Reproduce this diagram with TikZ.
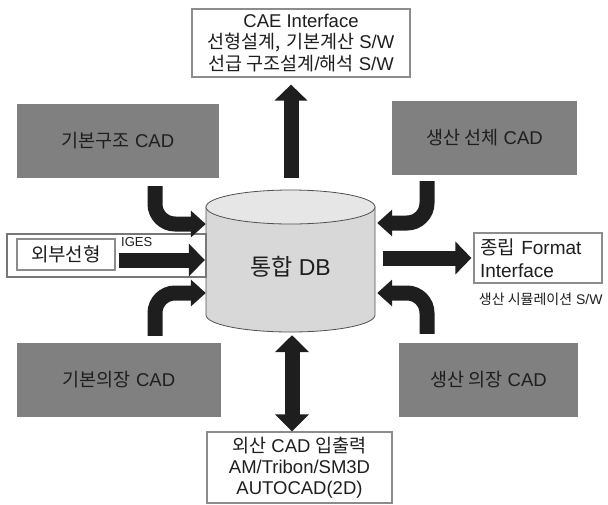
\documentclass[tikz,border=0pt]{standalone}
\usepackage{fontspec}
\setmainfont{Liberation Sans}
\newfontfamily\kr{Noto Sans CJK KR}
\usetikzlibrary{arrows.meta,calc}
\definecolor{BoxGray}{HTML}{808080}
\definecolor{Ink}{HTML}{1E1E1E}
\definecolor{DBBody}{HTML}{D8D8D8}
\definecolor{DBTop}{HTML}{E6E6E6}
\definecolor{DBLine}{HTML}{505050}
\definecolor{Frame}{HTML}{8C8C8C}

\begin{document}
\begin{tikzpicture}[x=1pt,y=-1pt]
  \tikzset{
    cadbox/.style={rectangle, fill=BoxGray, text=Ink, minimum height=74pt,
      font=\fontsize{18.5}{21}\selectfont},
    infobox/.style={rectangle, draw=Frame, line width=1.2pt, fill=white,
      align=center, text=Ink, font=\fontsize{18.5}{21.5}\selectfont},
    fat/.style={line width=15pt, draw=Ink, -{Triangle[length=16pt,width=32pt]}},
    bent/.style={line width=15pt, draw=Ink, rounded corners=20pt,
      -{Triangle[length=15pt,width=26pt]}}
  }
  \useasboundingbox (0,0) rectangle (608,504);

  % database
  \node[minimum width=169pt, minimum height=142pt, inner sep=0pt] (db) at (290.5,261) {};
  \draw[DBLine, line width=0.8pt, fill=DBBody] (206,207) -- (206,315)
    arc[start angle=180, end angle=0, x radius=84.5, y radius=17] -- (375,207) -- cycle;
  \draw[DBLine, line width=0.8pt, fill=DBTop] (290.5,207) ellipse[x radius=84.5, y radius=17];
  \node[text=Ink, font=\fontsize{23}{26}\selectfont] (dblabel) at (290.5,267) {{\kr 통합} DB};

  % CAD systems
  \node[cadbox, minimum width=202pt] (bs) at (118,141)   {{\kr 기본구조} CAD};
  \node[cadbox, minimum width=185pt] (ps) at (484.5,138) {{\kr 생산 선체} CAD};
  \node[cadbox, minimum width=204pt] (bo) at (119,380)   {{\kr 기본의장} CAD};
  \node[cadbox, minimum width=179pt] (po) at (488.5,380) {{\kr 생산 의장} CAD};

  % interfaces
  \node[infobox, minimum width=218pt, minimum height=68pt] (cae) at (301,43)
    {CAE Interface\\{\kr 선형설계,} {\kr 기본계산} S/W\\{\kr 선급 구조설계}/{\kr 해석} S/W};
  \node[infobox, minimum width=185pt, minimum height=71pt, font=\fontsize{18.5}{21}\selectfont]
    (ext) at (299.5,467.5) {{\kr 외산} CAD {\kr 입출력}\\AM/Tribon/SM3D\\AUTOCAD(2D)};
  \node[infobox, minimum width=128pt, minimum height=50pt, align=left, text width=116pt,
    inner xsep=6pt, font=\fontsize{19}{23}\selectfont] (fmt) at (538,258) {{\kr 종립} Format\\Interface};
  \node[text=Ink, font=\fontsize{14}{16}\selectfont, anchor=north west] (sim)
    at ($(fmt.south west)+(2,6)$) {{\kr 생산 시뮬레이션} S/W};

  % external hull form
  \node[draw=Frame!85!black, line width=2.5pt, minimum width=199pt, minimum height=43pt,
    inner sep=0pt] (geoframe) at (106.5,255.5) {};
  \node[draw=Frame, line width=1.5pt, fill=white, text=Ink, minimum width=98pt,
    minimum height=31pt, font=\fontsize{19}{22}\selectfont] (geo) at (66,254.5) {\kr 외부선형};
  \node[text=Ink, font=\fontsize{13}{14}\selectfont, anchor=west, inner sep=1pt] (iges) at (120,242) {IGES};

  % data flow
  \draw[fat, shorten >=7pt] ($(db.north)+(0.5,-12)$) -- ($(cae.south)+(-10,0)$);
  \draw[bent] ($(bs.south)+(37,8)$) |- ($(db.west)+(0,-37)$);
  \draw[bent] ($(bo.north)+(36,-7)$) |- ($(db.west)+(0,32)$);
  \draw[bent] ($(ps.south)+(-57.5,6)$) |- ($(db.east)+(2,-38)$);
  \draw[bent] ($(po.north)+(-61.5,-9)$) |- ($(db.east)+(2,32)$);
  \draw[fat] ($(geo.east)+(3,5.5)$) -- ($(db.west)+(-1,-1)$);
  \draw[fat, shorten >=2pt] ($(db.east)+(8,-3)$) -- (fmt.west);
  \draw[fat, {Triangle[length=17pt,width=33pt]}-{Triangle[length=17pt,width=33pt]}]
    ($(db.south)+(1.5,3)$) -- ($(ext.north)+(-7.5,0)$);
\end{tikzpicture}
\end{document}
